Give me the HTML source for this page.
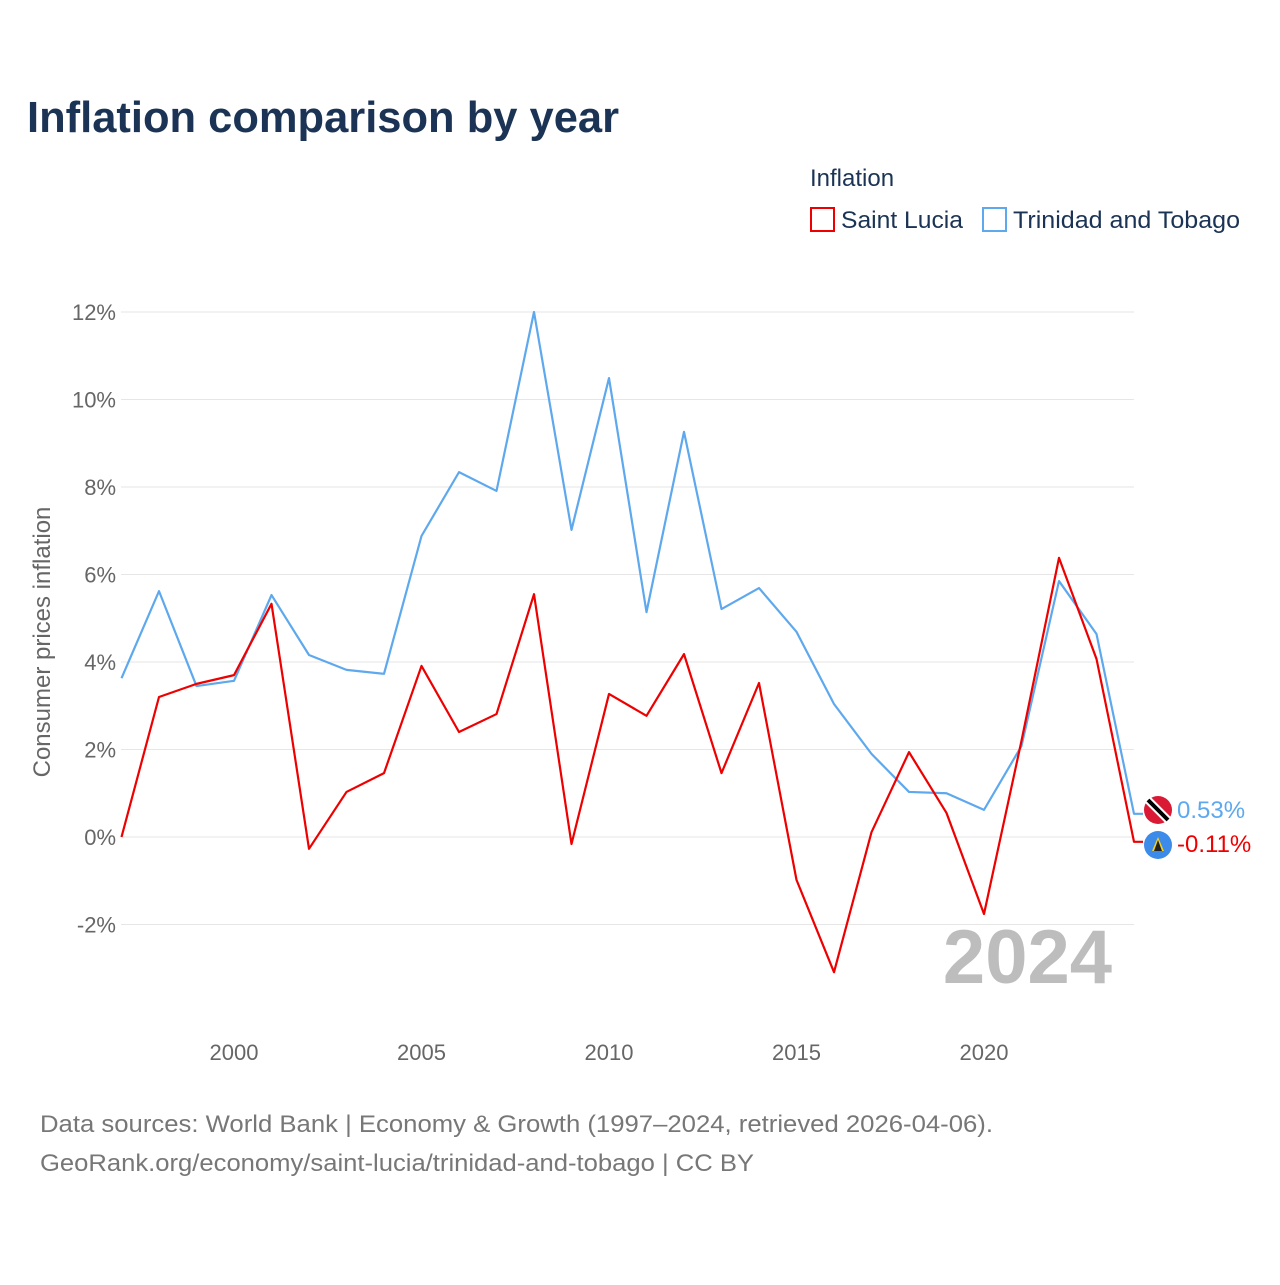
<!DOCTYPE html>
<html><head><meta charset="utf-8">
<style>
body{margin:0;background:#fff;font-family:"Liberation Sans",sans-serif;}
svg text{font-family:"Liberation Sans",sans-serif;}
</style></head>
<body>
<svg width="1280" height="1280" xmlns="http://www.w3.org/2000/svg">
<rect width="1280" height="1280" fill="#fff"/>
<text x="27" y="132" font-size="44" font-weight="bold" fill="#1b3354" textLength="592" lengthAdjust="spacingAndGlyphs">Inflation comparison by year</text>
<text x="810" y="186" font-size="24" fill="#1b3354">Inflation</text>
<g>
<rect x="811" y="208" width="23" height="23" fill="none" stroke="#ee0000" stroke-width="2"/>
<text x="841" y="228" font-size="24" fill="#1b3354" textLength="122" lengthAdjust="spacingAndGlyphs">Saint Lucia</text></g>
<g>
<rect x="983" y="208" width="23" height="23" fill="none" stroke="#5ea8ee" stroke-width="2"/>
<text x="1013" y="228" font-size="24" fill="#1b3354" textLength="227" lengthAdjust="spacingAndGlyphs">Trinidad and Tobago</text></g>
<g id="grid"></g>
<g id="yticks"></g>
<g id="xticks"></g>
<text transform="translate(50,642) rotate(-90)" text-anchor="middle" font-size="24" fill="#666">Consumer prices inflation</text>
<text x="1112" y="983" text-anchor="end" font-size="76" font-weight="bold" fill="#bdbdbd">2024</text>
<g id="series"></g>
<g>
<circle cx="1158" cy="810" r="14" fill="#da1a35"/>
<line x1="1148" y1="800" x2="1168" y2="820" stroke="#fff" stroke-width="8"/>
<line x1="1148" y1="800" x2="1168" y2="820" stroke="#000" stroke-width="4"/>
<circle cx="1158" cy="845" r="14" fill="#3d8be8"/>
<polygon points="1158,837 1164,851 1152,851" fill="#f5d020"/>
<polygon points="1158,840 1162,851 1154,851" fill="#222"/>
<text x="1177" y="818" font-size="24" fill="#5ea8ee">0.53%</text>
<text x="1177" y="852" font-size="24" fill="#ee0000">-0.11%</text>
</g>
<text x="40" y="1132" font-size="24" fill="#777" textLength="953" lengthAdjust="spacingAndGlyphs">Data sources: World Bank | Economy &amp; Growth (1997–2024, retrieved 2026-04-06).</text>
<text x="40" y="1171" font-size="24" fill="#777" textLength="714" lengthAdjust="spacingAndGlyphs">GeoRank.org/economy/saint-lucia/trinidad-and-tobago | CC BY</text>
</svg>
<script>
const years=[1997,1998,1999,2000,2001,2002,2003,2004,2005,2006,2007,2008,2009,2010,2011,2012,2013,2014,2015,2016,2017,2018,2019,2020,2021,2022,2023,2024];
const saintLucia=[0,3.2,3.5,3.7,5.33,-0.27,1.03,1.46,3.91,2.4,2.81,5.55,-0.16,3.27,2.77,4.18,1.46,3.52,-0.98,-3.09,0.11,1.94,0.55,-1.76,2.2,6.38,4.07,-0.11];
const trinidad=[3.63,5.62,3.45,3.57,5.53,4.16,3.82,3.73,6.88,8.34,7.91,12.0,7.02,10.49,5.14,9.26,5.21,5.69,4.69,3.04,1.9,1.03,1.0,0.62,2.08,5.85,4.64,0.53];
const yTicks=[-2,0,2,4,6,8,10,12];
const xTicks=[2000,2005,2010,2015,2020];
const NS="http://www.w3.org/2000/svg";
function xs(yr){return 121.5+(yr-1997)*37.5;}
function ys(v){return 837-v*43.75;}
function mk(tag,attrs,parent){const e=document.createElementNS(NS,tag);for(const k in attrs)e.setAttribute(k,attrs[k]);parent.appendChild(e);return e;}
const grid=document.getElementById('grid'),yt=document.getElementById('yticks'),xt=document.getElementById('xticks'),ser=document.getElementById('series');
yTicks.forEach(v=>{
 const l=mk('line',{x1:121,x2:1134,y1:ys(v),y2:ys(v),stroke:'#e6e6e6','stroke-width':1},grid);
 
 
 const t=mk('text',{x:116,y:ys(v)+8,'text-anchor':'end','font-size':22,fill:'#666'},yt);
 t.textContent=v+'%';
 
 
});
xTicks.forEach(yr=>{
 const t=mk('text',{x:xs(yr),y:1060,'text-anchor':'middle','font-size':22,fill:'#666'},xt);
 t.textContent=yr;
 
 
});
function line(vals,color,name){
 let d=vals.map((v,i)=>(i?'L':'M')+xs(years[i])+','+ys(v)).join(' ');
 d+=' L1143,'+ys(vals[vals.length-1]);
 const p=mk('path',{d:d,fill:'none',stroke:color,'stroke-width':2.2,'stroke-linejoin':'round'},ser);
 
 
}
line(trinidad,'#5ea8ee','line-trinidad-and-tobago');
line(saintLucia,'#ee0000','line-saint-lucia');
</script>
</body></html>
